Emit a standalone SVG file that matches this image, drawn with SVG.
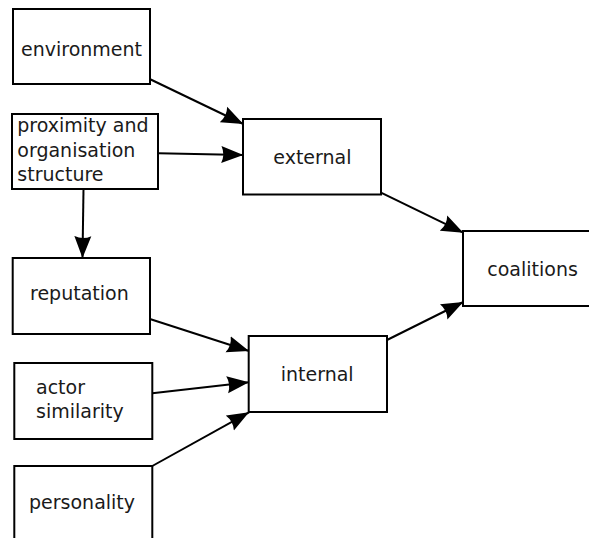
<svg xmlns="http://www.w3.org/2000/svg" width="589" height="538" viewBox="0 0 589 538">
<style>
.box{fill:#fff;stroke:#000;stroke-width:2}
.lbl{font-family:"DejaVu Sans",sans-serif;font-size:19px;fill:#1a1a1a}
.edge{stroke:#000;stroke-width:2;fill:none;marker-end:url(#ah)}
</style>
<defs>
<marker id="ah" markerUnits="userSpaceOnUse" markerWidth="23" markerHeight="18" refX="22" refY="9" orient="auto">
<path d="M0,0.5 L22,9 L0,17.5 Q4,9 0,0.5 Z" fill="#000"/>
</marker>
</defs>
<rect width="589" height="538" fill="#fff"/>
<g id="connectors">
<line class="edge" x1="150.7" y1="79.5" x2="243.3" y2="124"/>
<line class="edge" x1="158.5" y1="153.3" x2="243.3" y2="155"/>
<line class="edge" x1="83.5" y1="189" x2="82.5" y2="258"/>
<line class="edge" x1="381" y1="192.7" x2="463.3" y2="232.7"/>
<line class="edge" x1="387" y1="340" x2="463.3" y2="302"/>
<line class="edge" x1="150.7" y1="319.3" x2="249" y2="351"/>
<line class="edge" x1="152.3" y1="393.3" x2="249" y2="382.3"/>
<line class="edge" x1="152.3" y1="466" x2="249" y2="412.3"/>
</g>
<g id="environment">
<rect class="box" x="13" y="9" width="137" height="75"/>
<text class="lbl" x="21" y="55.7">environment</text>
</g>
<g id="proximity">
<rect class="box" x="12" y="114" width="146" height="75"/>
<text class="lbl" x="17.3" y="132">proximity and</text>
<text class="lbl" x="17.3" y="156.5">organisation</text>
<text class="lbl" x="17.3" y="180.5">structure</text>
</g>
<g id="external">
<rect class="box" x="243" y="119" width="138" height="75.5"/>
<text class="lbl" x="273.3" y="164.3">external</text>
</g>
<g id="coalitions">
<rect class="box" x="463" y="231" width="140" height="75"/>
<text class="lbl" x="487.3" y="275.7">coalitions</text>
</g>
<g id="reputation">
<rect class="box" x="12.7" y="258" width="137.3" height="76"/>
<text class="lbl" x="30" y="300">reputation</text>
</g>
<g id="actor-similarity">
<rect class="box" x="14.3" y="363" width="138" height="76"/>
<text class="lbl" x="36" y="394.3">actor</text>
<text class="lbl" x="36" y="418.3">similarity</text>
</g>
<g id="internal">
<rect class="box" x="248.7" y="336" width="138.3" height="76"/>
<text class="lbl" x="280.7" y="380.7">internal</text>
</g>
<g id="personality">
<rect class="box" x="14.3" y="466" width="138" height="80"/>
<text class="lbl" x="29" y="509">personality</text>
</g>
</svg>
